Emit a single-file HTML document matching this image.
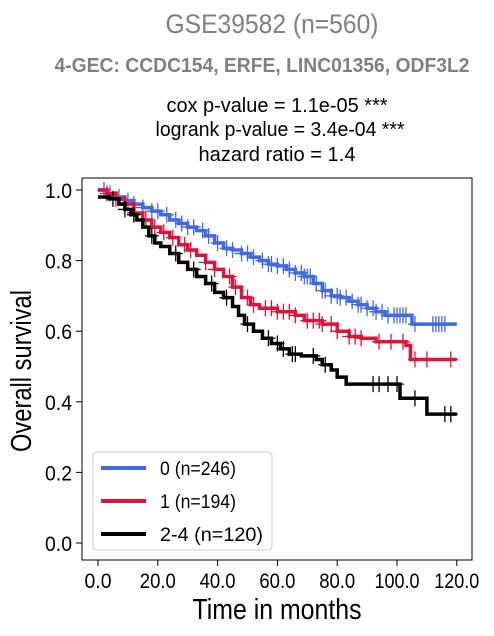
<!DOCTYPE html>
<html><head><meta charset="utf-8">
<style>
body{margin:0;background:#fff;width:494px;height:636px;overflow:hidden;font-family:"Liberation Sans",Arial,sans-serif}
svg{display:block}
</style></head>
<body>
<svg id="chart" width="494" height="636" viewBox="0 0 494 636" xmlns="http://www.w3.org/2000/svg" font-family="Liberation Sans, Arial, sans-serif">
<text x="272" y="33" text-anchor="middle" font-size="27" fill="#808080" textLength="213" lengthAdjust="spacingAndGlyphs">GSE39582 (n=560)</text>
<text x="262" y="72" text-anchor="middle" font-size="20" font-weight="bold" fill="#808080" textLength="415" lengthAdjust="spacingAndGlyphs">4-GEC: CCDC154, ERFE, LINC01356, ODF3L2</text>
<text x="277" y="112" text-anchor="middle" font-size="20" textLength="221" lengthAdjust="spacingAndGlyphs">cox p-value = 1.1e-05 ***</text>
<text x="280" y="136" text-anchor="middle" font-size="20" textLength="249" lengthAdjust="spacingAndGlyphs">logrank p-value = 3.4e-04 ***</text>
<text x="277" y="161" text-anchor="middle" font-size="20" textLength="157" lengthAdjust="spacingAndGlyphs">hazard ratio = 1.4</text>
<g id="plot"></g>
<rect x="82" y="178" width="390" height="382" fill="none" stroke="#000" stroke-width="1"/>
<text transform="translate(31,371) rotate(-90)" text-anchor="middle" font-size="29" textLength="162" lengthAdjust="spacingAndGlyphs">Overall survival</text>
<text x="277" y="619" text-anchor="middle" font-size="29" textLength="169" lengthAdjust="spacingAndGlyphs">Time in months</text>
<g>
<rect x="93" y="452" width="179" height="98" rx="4" fill="#fff" stroke="#ccc"/>
<line x1="101" y1="468" x2="146" y2="468" stroke="#4169e1" stroke-width="4"/>
<text x="160" y="475" font-size="19" textLength="76" lengthAdjust="spacingAndGlyphs">0 (n=246)</text>
<line x1="101" y1="501" x2="146" y2="501" stroke="#dc143c" stroke-width="4"/>
<text x="160" y="508" font-size="19" textLength="76" lengthAdjust="spacingAndGlyphs">1 (n=194)</text>
<line x1="101" y1="534" x2="146" y2="534" stroke="#000" stroke-width="4"/>
<text x="160" y="541" font-size="19" textLength="103" lengthAdjust="spacingAndGlyphs">2-4 (n=120)</text>
</g>
</svg>
<script>
const xTicks=[0,20,40,60,80,100,120];
const xTickLabels=["0.0","20.0","40.0","60.0","80.0","100.0","120.0"];
const yTicks=[0,0.2,0.4,0.6,0.8,1.0];
const yTickLabels=["0.0","0.2","0.4","0.6","0.8","1.0"];
const blueT=[0,3,6,9,12,15,18,21,24,27,30,33,36,39,42,45,48,51,54,57,60,63,66,69,72,75,78,81,84,87,90,93,96,105,120];
const blueS=[1.0,0.99,0.98,0.97,0.96,0.95,0.94,0.93,0.915,0.905,0.895,0.885,0.87,0.85,0.835,0.83,0.82,0.81,0.80,0.79,0.785,0.775,0.765,0.755,0.735,0.715,0.70,0.695,0.685,0.675,0.665,0.655,0.645,0.62,0.62];
const redT=[0,3,6,9,12,15,18,21,24,27,30,33,36,39,42,45,48,51,54,60,66,69,75,80,84,88,93,103,104.5,120];
const redS=[1.0,0.99,0.975,0.96,0.935,0.915,0.895,0.88,0.865,0.845,0.83,0.815,0.795,0.775,0.755,0.725,0.695,0.675,0.665,0.655,0.645,0.63,0.62,0.60,0.585,0.58,0.57,0.56,0.52,0.52];
const blackT=[0,4,7,9,11,13,15,17,19,21,24,27,30,33,36,39,42,45,47,49,52,55,58,61,64,68,73,75,78,80,83,101,110,120];
const blackS=[0.98,0.975,0.96,0.945,0.93,0.915,0.895,0.87,0.85,0.84,0.82,0.795,0.775,0.755,0.735,0.71,0.695,0.67,0.645,0.62,0.60,0.58,0.565,0.55,0.535,0.53,0.52,0.505,0.49,0.47,0.45,0.41,0.365,0.365];
const blueC=[2,4,7,10,12,15,18,20,23,26,28,30,32,35,37,40,43,45,48,50,52,55,57,58,60,62,64,66,68,69,70,71,73,75,76,78,80,81,83,85,87,88,90,92,93,95,97,99,100,101,102,103,106,112,113,114,115,116];
const redC=[3,6,9,12,16,19,22,25,29,31,36,39,44,46,50,52,56,58,60,62,64,66,70,72,74,75,78,80,84,86,88,94,98,102,106,110,118];
const blackC=[5,9,12,18,26,32,38,43,50,57,60,62,65,66,72,76,92,94,97,100,106,116,118];
const X=t=>98+t*2.99, Y=s=>543-s*353;
const NS="http://www.w3.org/2000/svg";
const plot=document.getElementById('plot');
function mk(tag,attrs){const e=document.createElementNS(NS,tag);for(const k in attrs)e.setAttribute(k,attrs[k]);return e;}
xTicks.forEach((v,i)=>{
 const l=mk('line',{x1:X(v),x2:X(v),y1:560,y2:566,stroke:'#000'});
 
 
 plot.appendChild(l);
 const t=mk('text',{x:X(v),y:588,'text-anchor':'middle','font-size':21,textLength:(xTickLabels[i].length*9),lengthAdjust:'spacingAndGlyphs'});
 
 
 t.textContent=xTickLabels[i];plot.appendChild(t);
});
yTicks.forEach((v,i)=>{
 const l=mk('line',{x1:76,x2:82,y1:Y(v),y2:Y(v),stroke:'#000'});
 
 
 plot.appendChild(l);
 const t=mk('text',{x:72,y:Y(v)+8,'text-anchor':'end','font-size':21,textLength:27,lengthAdjust:'spacingAndGlyphs'});
 
 
 t.textContent=yTickLabels[i];plot.appendChild(t);
});
function sAt(T,S,t){let s=S[0];for(let i=0;i<T.length;i++){if(T[i]<=t)s=S[i];}return s;}
function curve(T,S,C,color,name){
 let d='M'+X(T[0])+','+Y(S[0]);
 for(let i=1;i<T.length;i++){d+=' H'+X(T[i])+' V'+Y(S[i]);}
 const p=mk('path',{d:d,fill:'none',stroke:color,'stroke-width':3.5});
 
 
 plot.appendChild(p);
 C.forEach(c=>{
  const x=X(c),y=Y(sAt(T,S,c));
  const m=mk('path',{d:`M${x},${y-8}V${y+8}M${x-7},${y}H${x+7}`,stroke:color,'stroke-width':1.3});
  
  
  plot.appendChild(m);
 });
}
curve(blueT,blueS,blueC,'#4169e1','group-0');
curve(redT,redS,redC,'#dc143c','group-1');
curve(blackT,blackS,blackC,'#000','group-2-4');
</script>
</body></html>
